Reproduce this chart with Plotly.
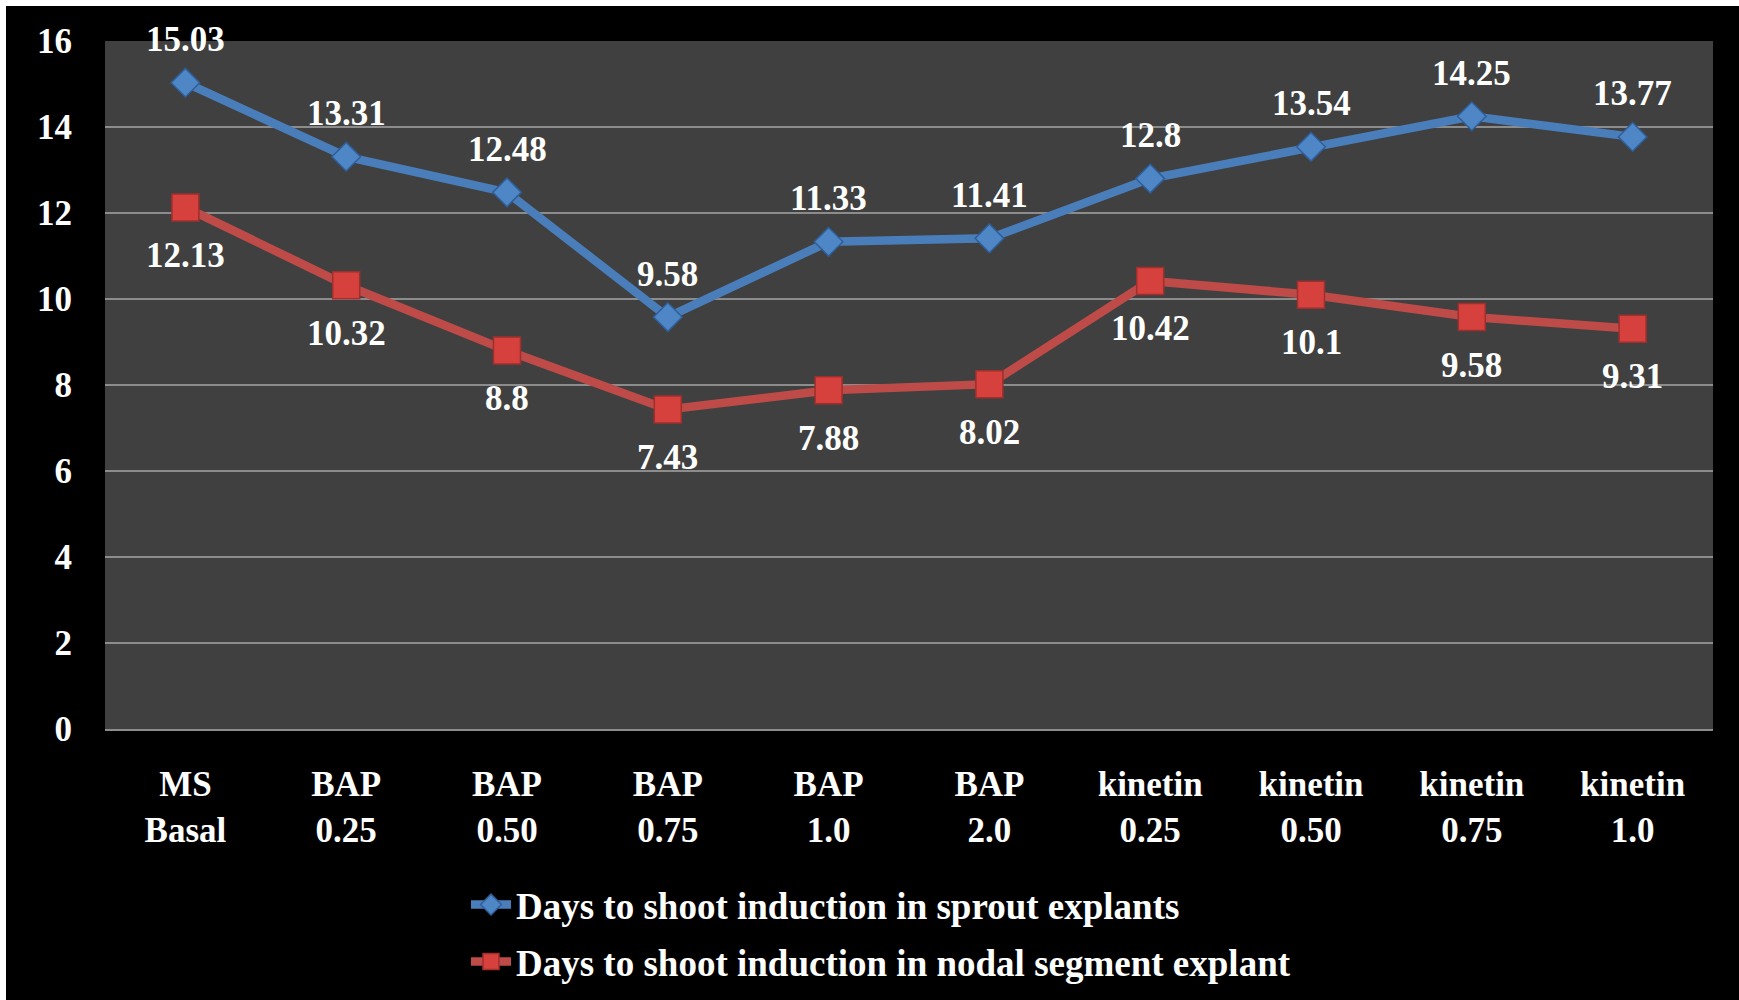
import plotly.graph_objects as go

# Treatment groups shown along the x axis
categories = ["MS<br>Basal", "BAP<br>0.25", "BAP<br>0.50", "BAP<br>0.75", "BAP<br>1.0",
              "BAP<br>2.0", "kinetin<br>0.25", "kinetin<br>0.50", "kinetin<br>0.75", "kinetin<br>1.0"]

# Days to shoot induction
sprout_days = [15.03, 13.31, 12.48, 9.58, 11.33, 11.41, 12.8, 13.54, 14.25, 13.77]
nodal_days = [12.13, 10.32, 8.8, 7.43, 7.88, 8.02, 10.42, 10.1, 9.58, 9.31]

sprout_labels = ["15.03", "13.31", "12.48", "9.58", "11.33", "11.41", "12.8", "13.54", "14.25", "13.77"]
nodal_labels = ["12.13", "10.32", "8.8", "7.43", "7.88", "8.02", "10.42", "10.1", "9.58", "9.31"]

y_ticks = [0, 2, 4, 6, 8, 10, 12, 14, 16]

FONT = "Liberation Serif"
BLUE = "#4A7EBB"
RED = "#BE4B48"

W, H = 1739, 1000
L, R, T, B = 105, 26, 41, 271
PW, PH = W - L - R, H - T - B


def px_x(p):
    return (p - L) / PW


def px_y(p):
    return (H - B - p) / PH


def bold(size):
    return dict(family=FONT, size=size, color="white", weight="bold")


fig = go.Figure()

fig.add_trace(go.Scatter(
    x=categories, y=sprout_days, mode="lines+markers",
    name="Days to shoot induction in sprout explants",
    line=dict(color=BLUE, width=8.5),
    marker=dict(symbol="diamond", size=22, color="#4F86C6",
                line=dict(color="#2F5F9A", width=1.5)),
    legend="legend",
))
fig.add_trace(go.Scatter(
    x=categories, y=nodal_days, mode="lines+markers",
    name="Days to shoot induction in nodal segment explant",
    line=dict(color=RED, width=8.5),
    marker=dict(symbol="square", size=27, color="#D6413E",
                line=dict(color="#9E2F2C", width=1.5)),
    legend="legend2",
))

annotations = []
for cat, val, lab in zip(categories, sprout_days, sprout_labels):
    annotations.append(dict(x=cat, y=val, text=lab, showarrow=False, yshift=43,
                            font=bold(35)))
for cat, val, lab in zip(categories, nodal_days, nodal_labels):
    annotations.append(dict(x=cat, y=val, text=lab, showarrow=False, yshift=-48,
                            font=bold(35)))

# thin white strips along the top and left edges of the frame
shapes = [
    dict(type="rect", xref="paper", yref="paper", layer="above",
         x0=px_x(0), x1=px_x(6), y0=px_y(W), y1=px_y(0),
         fillcolor="white", line=dict(width=0)),
    dict(type="rect", xref="paper", yref="paper", layer="above",
         x0=px_x(0), x1=px_x(W), y0=px_y(6), y1=px_y(0),
         fillcolor="white", line=dict(width=0)),
]

legend_common = dict(
    font=bold(37),
    bgcolor="rgba(0,0,0,0)", xanchor="left", yanchor="middle",
    itemwidth=40,
)

fig.update_layout(
    width=W, height=H,
    margin=dict(l=L, r=R, t=T, b=B, pad=0, autoexpand=False),
    paper_bgcolor="black",
    plot_bgcolor="#404040",
    font=dict(family=FONT, color="white"),
    showlegend=True,
    legend=dict(x=px_x(466), y=px_y(905), **legend_common),
    legend2=dict(x=px_x(466), y=px_y(962), **legend_common),
    annotations=annotations,
    shapes=shapes,
    xaxis=dict(
        type="category", range=[-0.5, 9.5],
        showgrid=False, showline=True, linecolor="#8C8C8C", linewidth=2,
        ticks="", ticklabelstandoff=23,
        tickfont=bold(35),
        fixedrange=True,
    ),
    yaxis=dict(
        range=[0, 16], tickvals=y_ticks, ticktext=[str(v) for v in y_ticks],
        showgrid=True, gridcolor="#8C8C8C", gridwidth=1.5,
        zeroline=False, showline=False, ticks="", ticklabelstandoff=32,
        tickfont=bold(35),
        fixedrange=True,
    ),
)

fig.write_html("out.html")
